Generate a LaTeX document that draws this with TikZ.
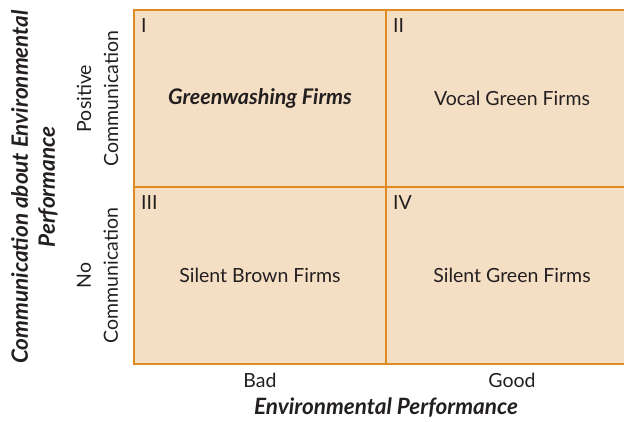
\documentclass[tikz,border=0pt]{standalone}
\usepackage{fontspec}
\setmainfont{Lato}
\usepackage{xcolor}
\usepackage{tikz}
\usetikzlibrary{positioning}

\definecolor{fondo}{HTML}{F5DFC4}
\definecolor{naranja}{HTML}{E08B22}
\definecolor{tinta}{HTML}{231F20}

\begin{document}
\begin{tikzpicture}[x=1pt, y=1pt,
  every node/.style={text=tinta, font=\fontsize{19.5}{27}\selectfont},
  celda/.style={draw=naranja, fill=fondo, line width=1.6pt,
    minimum width=252pt, minimum height=177pt, inner sep=0pt, outer sep=0pt},
  titulo/.style={font=\fontsize{22.5}{27}\selectfont\bfseries\itshape, align=center}]
  \useasboundingbox (0,0) rectangle (624,-422);
  \clip (0,0) rectangle (624,-422);

  % Celdas del cuadro
  \node[celda, anchor=north west] (c1) at (134,-10) {};
  \node[celda, right=0pt of c1] (c2) {};
  \node[celda, below=0pt of c1] (c3) {};
  \node[celda, right=0pt of c3] (c4) {};

  % Numeros de cuadrante
  \node[anchor=north west, inner sep=0pt] (n1) at ([shift={(7,-8)}]c1.north west) {I};
  \node[anchor=north west, inner sep=0pt] (n2) at ([shift={(7,-8)}]c2.north west) {II};
  \node[anchor=north west, inner sep=0pt] (n3) at ([shift={(7,-8)}]c3.north west) {III};
  \node[anchor=north west, inner sep=0pt] (n4) at ([shift={(7,-8)}]c4.north west) {IV};

  % Textos de las celdas
  \node (t1) at (c1) {\fontsize{21.5}{27}\selectfont\bfseries\itshape Greenwashing Firms};
  \node (t2) at (c2) {Vocal Green Firms};
  \node (t3) at (c3) {Silent Brown Firms};
  \node (t4) at (c4) {Silent Green Firms};

  % Eje horizontal
  \node (bad) at ([yshift=-16pt]c3.south) {Bad};
  \node (good) at ([yshift=-16pt]c4.south) {Good};
  \node[titulo] (ejex) at ([yshift=-44pt]c3.south east) {Environmental Performance};

  % Eje vertical
  \node[rotate=90, align=center] (pos) at ([xshift=-36.5pt]c1.west)
    {Positive\\Communication};
  \node[rotate=90, align=center] (no) at ([xshift=-36.5pt]c3.west)
    {No\\Communication};
  \node[titulo, rotate=90] (ejey) at ([xshift=-99.5pt]c1.south west)
    {Communication about Environmental\\Performance};
\end{tikzpicture}
\end{document}
